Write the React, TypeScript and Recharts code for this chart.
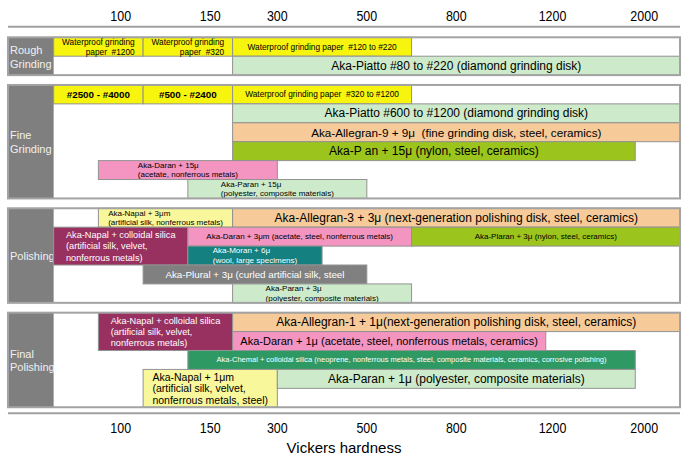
import React from 'react';
import { ComposedChart, XAxis, YAxis, ReferenceArea, Scatter } from 'recharts';

const FONT = '"Liberation Sans", Arial, Helvetica, sans-serif';

// sections, top to bottom, and how many rows each one has
const SECTION_NAMES = ['Rough\nGrinding', 'Fine\nGrinding', 'Polishing', 'Final\nPolishing'];
const SECTION_ROWS = [2, 6, 5, 5];

// hardness marks, placed on the 14 column grid of the table
const HARDNESS_LABELS = ['100', '150', '300', '500', '800', '1200', '2000'];
const HARDNESS_COLUMNS = [1.5, 3.5, 5, 7, 9, 11.15, 13.2];

// [id, row, rows spanned, from column, to column, product kind, label]
type Item = [string, number, number, number, number, string, string];

const ROUGH_GRINDING: Item[] = [
  ['r1', 0, 1, 0, 2, 'paper', 'Waterproof grinding\npaper  #1200'],
  ['r2', 0, 1, 2, 4, 'paper', 'Waterproof grinding\npaper  #320'],
  ['r3', 0, 1, 4, 8, 'paper', 'Waterproof grinding paper  #120 to #220'],
  ['r4', 1, 1, 4, 14, 'piatto', 'Aka-Piatto #80 to #220 (diamond grinding disk)'],
];

const FINE_GRINDING: Item[] = [
  ['f1', 0, 1, 0, 2, 'paper', '#2500 - #4000'],
  ['f2', 0, 1, 2, 4, 'paper', '#500 - #2400'],
  ['f3', 0, 1, 4, 8, 'paper', 'Waterproof grinding paper  #320 to #1200'],
  ['f4', 1, 1, 4, 14, 'piatto', 'Aka-Piatto #600 to #1200 (diamond grinding disk)'],
  ['f5', 2, 1, 4, 14, 'allegran', 'Aka-Allegran-9 + 9μ  (fine grinding disk, steel, ceramics)'],
  ['f6', 3, 1, 4, 13, 'plan', 'Aka-P an + 15μ (nylon, steel, ceramics)'],
  ['f7', 4, 1, 1, 5, 'daran', 'Aka-Daran + 15μ\n(acetate, nonferrous metals)'],
  ['f8', 5, 1, 3, 7, 'paran', 'Aka-Paran + 15μ\n(polyester, composite materials)'],
];

const POLISHING: Item[] = [
  ['p1', 0, 1, 1, 4, 'napal', 'Aka-Napal + 3μm\n(artificial silk, nonferrous metals)'],
  ['p2', 0, 1, 4, 14, 'allegran', 'Aka-Allegran-3 + 3μ (next-generation polishing disk, steel, ceramics)'],
  ['p3', 1, 2, 0, 3, 'napalSilica', 'Aka-Napal + colloidal silica\n(artificial silk, velvet,\nnonferrous metals)'],
  ['p4', 1, 1, 3, 8, 'daran', 'Aka-Daran + 3μm (acetate, steel, nonferrous metals)'],
  ['p5', 1, 1, 8, 14, 'plan', 'Aka-Plaran + 3μ (nylon, steel, ceramics)'],
  ['p6', 2, 1, 3, 6, 'moran', 'Aka-Moran + 6μ\n(wool, large specimens)'],
  ['p7', 3, 1, 2, 7, 'plural', 'Aka-Plural + 3μ (curled artificial silk, steel'],
  ['p8', 4, 1, 4, 8, 'paran', 'Aka-Paran + 3μ\n(polyester, composite materials)'],
];

const FINAL_POLISHING: Item[] = [
  ['q1', 0, 2, 1, 4, 'napalSilica', 'Aka-Napal + colloidal silica\n(artificial silk, velvet,\nnonferrous metals)'],
  ['q2', 0, 1, 4, 14, 'allegran', 'Aka-Allegran-1 + 1μ(next-generation polishing disk, steel, ceramics)'],
  ['q3', 1, 1, 4, 11, 'daran', 'Aka-Daran + 1μ (acetate, steel, nonferrous metals, ceramics)'],
  ['q4', 2, 1, 3, 13, 'chemal', 'Aka-Chemal + colloidal silica (neoprene, nonferrous metals, steel, composite materials, ceramics, corrosive polishing)'],
  ['q5', 3, 2, 2, 5, 'napal', 'Aka-Napal + 1μm\n(artificial silk, velvet,\nnonferrous metals, steel)'],
  ['q6', 3, 1, 5, 13, 'paran', 'Aka-Paran + 1μ (polyester, composite materials)'],
];

const SECTION_ITEMS = [ROUGH_GRINDING, FINE_GRINDING, POLISHING, FINAL_POLISHING];

// fill and text colour per product kind
const KIND_COLORS: Record<string, [string, string]> = {
  paper: ['#f7f40e', '#000'],
  piatto: ['#cdebcb', '#000'],
  paran: ['#cdebcb', '#000'],
  allegran: ['#f6cb99', '#000'],
  plan: ['#9bc41d', '#000'],
  daran: ['#f494c1', '#000'],
  napal: ['#f8f79b', '#000'],
  napalSilica: ['#993160', '#fff'],
  moran: ['#148080', '#fff'],
  plural: ['#808080', '#fff'],
  chemal: ['#2f9964', '#fff'],
};

type Look = { size: number; align?: 'left' | 'center' | 'right'; lh?: number; bold?: boolean };
const LOOK: Record<string, Look> = {
  r1: { size: 8.3, align: 'right', lh: 9.6 },
  r2: { size: 8.3, align: 'right', lh: 9.6 },
  r3: { size: 8.3 },
  r4: { size: 12 },
  f1: { size: 9.8, bold: true },
  f2: { size: 9.8, bold: true },
  f3: { size: 8.3 },
  f4: { size: 12 },
  f5: { size: 11.7 },
  f6: { size: 12 },
  f7: { size: 8, align: 'left', lh: 9.5 },
  f8: { size: 8, align: 'left', lh: 9.5 },
  p1: { size: 8, align: 'left', lh: 9.3 },
  p2: { size: 12 },
  p3: { size: 9.2, align: 'left', lh: 11.6 },
  p4: { size: 8 },
  p5: { size: 8 },
  p6: { size: 8, align: 'left', lh: 9.5 },
  p7: { size: 9.8 },
  p8: { size: 8, align: 'left', lh: 9.5 },
  q1: { size: 9.2, align: 'left', lh: 11 },
  q2: { size: 12 },
  q3: { size: 11 },
  q4: { size: 7.5 },
  q5: { size: 10.5, align: 'left', lh: 11.3 },
  q6: { size: 12 },
};

const GAP = 0.52; // space between sections, in rows
const SECTION_TOP: number[] = [];
let acc = 0;
SECTION_ROWS.forEach((n) => {
  SECTION_TOP.push(acc);
  acc += n + GAP;
});
const TABLE_END = acc - GAP;
const LABEL_COL = -1.02; // grey name column left of column 0

// the hardness marks as points, so both axes have something to scale
const markData = HARDNESS_COLUMNS.map((col) => ({ col, row: 0 }));

let ctx: CanvasRenderingContext2D | null = null;
const measure = (s: string, size: number, bold?: boolean) => {
  if (!ctx) ctx = document.createElement('canvas').getContext('2d');
  if (!ctx) return s.length * size * 0.5;
  ctx.font = `${bold ? 'bold ' : ''}${size}px ${FONT}`;
  return ctx.measureText(s).width;
};

const Lines = ({ x, y, width, height, text, look, ink }: any) => {
  const lines: string[] = text.split('\n');
  const lh = look.lh ?? look.size * 1.2;
  const blockW = Math.max(...lines.map((l) => measure(l, look.size, look.bold)));
  const left = x + (width - blockW) / 2;
  const align = look.align ?? 'center';
  const tx = align === 'left' ? left : align === 'right' ? left + blockW : x + width / 2;
  const anchor = align === 'left' ? 'start' : align === 'right' ? 'end' : 'middle';
  const cy = y + height / 2;
  return (
    <>
      {lines.map((l, i) => (
        <text
          key={i}
          x={tx}
          y={cy + (i - (lines.length - 1) / 2) * lh}
          dominantBaseline="central"
          textAnchor={anchor}
          fontSize={look.size}
          fontWeight={look.bold ? 'bold' : 'normal'}
          fontFamily={FONT}
          fill={ink}
          style={{ whiteSpace: 'pre' }}
        >
          {l}
        </text>
      ))}
    </>
  );
};

const ItemBox = (p: any) => (
  <g>
    <rect x={p.x} y={p.y} width={p.width} height={p.height} fill={p.color} stroke="#929292" strokeWidth={1} />
    <Lines {...p} />
  </g>
);

const NameBox = (p: any) => {
  const lines: string[] = p.text.split('\n');
  const lh = 13.6;
  const cy = p.y + p.height / 2 + 0.5;
  return (
    <g>
      <rect x={p.x} y={p.y} width={p.width} height={p.height} fill="#7f7f7f" />
      {lines.map((l, i) => (
        <text
          key={i}
          x={p.x + 2}
          y={cy + (i - (lines.length - 1) / 2) * lh}
          dominantBaseline="central"
          fontSize={11}
          fontFamily={FONT}
          fill="#f0f0f0"
        >
          {l}
        </text>
      ))}
    </g>
  );
};

const HardnessTick = (p: any) => {
  const i = HARDNESS_COLUMNS.indexOf(p.payload.value);
  return (
    <text
      x={0}
      y={0}
      transform={`translate(${p.x},${p.y}) scale(0.86,1)`}
      dy={p.side === 'top' ? 0 : '0.72em'}
      textAnchor="middle"
      fontSize={14.5}
      fontFamily={FONT}
      fill="#000"
    >
      {HARDNESS_LABELS[i]}
    </text>
  );
};

export default function App() {
  return (
    <div style={{ position: 'absolute', left: 0, top: 0, background: '#fff' }}>
      <ComposedChart width={690} height={465} data={markData} margin={{ top: 6.7, right: 10, bottom: 1.7, left: 8 }}>
        <XAxis
          xAxisId="top"
          orientation="top"
          dataKey="col"
          type="number"
          domain={[LABEL_COL, 14]}
          ticks={HARDNESS_COLUMNS}
          interval={0}
          allowDataOverflow
          height={20}
          axisLine={{ stroke: '#a0a0a0', strokeWidth: 2 }}
          tickLine={false}
          tickSize={0}
          tickMargin={6}
          tick={(p: any) => <HardnessTick {...p} side="top" />}
        />
        <XAxis
          dataKey="col"
          type="number"
          domain={[LABEL_COL, 14]}
          ticks={HARDNESS_COLUMNS}
          interval={0}
          allowDataOverflow
          height={50}
          axisLine={{ stroke: '#a0a0a0', strokeWidth: 2 }}
          tickLine={false}
          tickSize={0}
          tickMargin={9.5}
          tick={(p: any) => <HardnessTick {...p} side="bottom" />}
          label={{ value: 'Vickers hardness', position: 'insideBottom', offset: 10.3, fontSize: 15, fill: '#000', fontFamily: FONT }}
        />
        <YAxis hide dataKey="row" type="number" reversed allowDataOverflow domain={[-0.56, TABLE_END + 0.32]} />

        <Scatter data={markData} dataKey="row" xAxisId={0} shape={() => <g />} isAnimationActive={false} />
        <Scatter data={markData} dataKey="row" xAxisId="top" shape={() => <g />} isAnimationActive={false} />

        {SECTION_NAMES.map((name, s) => {
          const top = SECTION_TOP[s];
          const bottom = top + SECTION_ROWS[s];
          return (
            <React.Fragment key={name}>
              <ReferenceArea x1={LABEL_COL} x2={14} y1={top} y2={bottom} shape={(p: any) => <rect x={p.x} y={p.y} width={p.width} height={p.height} fill="#fff" />} />
              <ReferenceArea x1={LABEL_COL} x2={0} y1={top} y2={bottom} shape={(p: any) => <NameBox {...p} text={name} />} />
              {SECTION_ITEMS[s].map(([id, row, span, from, to, kind, label]) => (
                <ReferenceArea
                  key={id}
                  x1={from}
                  x2={to}
                  y1={top + row}
                  y2={top + row + span}
                  shape={(p: any) => (
                    <ItemBox {...p} color={KIND_COLORS[kind][0]} ink={KIND_COLORS[kind][1]} text={label} look={LOOK[id]} />
                  )}
                />
              ))}
              <ReferenceArea
                x1={LABEL_COL}
                x2={14}
                y1={top}
                y2={bottom}
                shape={(p: any) => <rect x={p.x} y={p.y} width={p.width} height={p.height} fill="none" stroke="#a3a3a3" strokeWidth={2} />}
              />
            </React.Fragment>
          );
        })}
      </ComposedChart>
    </div>
  );
}
